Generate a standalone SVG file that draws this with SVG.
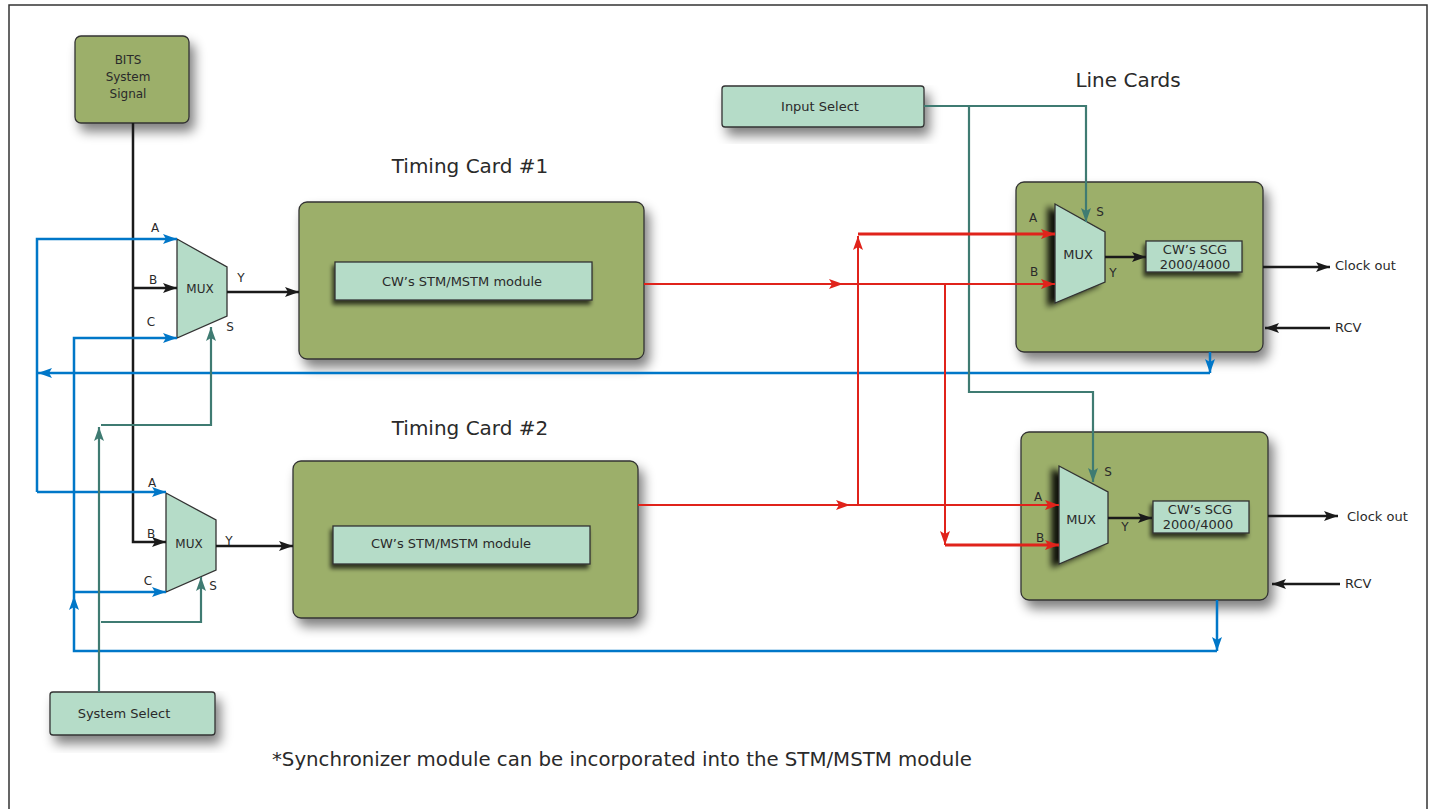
<svg xmlns="http://www.w3.org/2000/svg" width="1436" height="809" viewBox="0 0 1436 809">
<defs>
<style>
text{font-family:"DejaVu Sans","Liberation Sans",sans-serif;fill:#2a2a2a;}
.card{fill:#9caf6a;stroke:#333;stroke-width:1.3;}
.mod{fill:#b5dcc8;stroke:#333;stroke-width:1.3;}
.mux{fill:#b5dcc8;stroke:#333;stroke-width:1.3;}
.blk{fill:none;stroke:#1a1a1a;stroke-width:2.5;}
.blu{fill:none;stroke:#0077c8;stroke-width:2.5;}
.tea{fill:none;stroke:#3f7b72;stroke-width:2.2;}
.red{fill:none;stroke:#e0231b;stroke-width:2;}
.redt{fill:none;stroke:#e0231b;stroke-width:3;}
.lbl{font-size:12px;}
.t13{font-size:13px;}
.title{font-size:20px;}
</style>
<filter id="sh" x="-20%" y="-20%" width="150%" height="160%">
<feGaussianBlur in="SourceAlpha" stdDeviation="6"/>
<feOffset dx="5" dy="8" result="b"/>
<feComponentTransfer><feFuncA type="linear" slope="0.5"/></feComponentTransfer>
<feMerge><feMergeNode/><feMergeNode in="SourceGraphic"/></feMerge>
</filter>
<filter id="shs" x="-20%" y="-30%" width="140%" height="180%">
<feGaussianBlur in="SourceAlpha" stdDeviation="2"/>
<feOffset dx="-2" dy="4"/>
<feComponentTransfer><feFuncA type="linear" slope="0.7"/></feComponentTransfer>
<feMerge><feMergeNode/><feMergeNode in="SourceGraphic"/></feMerge>
</filter>
<filter id="shm" x="-50%" y="-20%" width="200%" height="150%">
<feGaussianBlur in="SourceAlpha" stdDeviation="3"/>
<feOffset dx="-7" dy="3"/>
<feComponentTransfer><feFuncA type="linear" slope="0.9"/></feComponentTransfer>
<feMerge><feMergeNode/><feMergeNode in="SourceGraphic"/></feMerge>
</filter>
<marker id="aK" markerUnits="userSpaceOnUse" markerWidth="16" markerHeight="12" refX="14" refY="6" orient="auto"><path d="M0,1 L14,6 L0,11 L3,6 Z" fill="#1a1a1a"/></marker>
<marker id="aB" markerUnits="userSpaceOnUse" markerWidth="16" markerHeight="12" refX="14" refY="6" orient="auto"><path d="M0,1 L14,6 L0,11 L3,6 Z" fill="#0077c8"/></marker>
<marker id="aT" markerUnits="userSpaceOnUse" markerWidth="16" markerHeight="12" refX="14" refY="6" orient="auto"><path d="M0,1 L14,6 L0,11 L3,6 Z" fill="#3f7b72"/></marker>
<marker id="aR" markerUnits="userSpaceOnUse" markerWidth="16" markerHeight="12" refX="14" refY="6" orient="auto"><path d="M0,1 L14,6 L0,11 L3,6 Z" fill="#e0231b"/></marker>
</defs>
<rect width="1436" height="809" fill="#fff"/>
<path d="M9 809 V5 H1427 V809" fill="none" stroke="#333" stroke-width="1.5"/>

<g id="bits">
<rect x="75" y="36" width="114" height="87" rx="6" class="card" filter="url(#sh)"/>
<text x="128" y="64" text-anchor="middle" class="lbl">BITS</text>
<text x="128" y="81" text-anchor="middle" class="lbl">System</text>
<text x="128" y="98" text-anchor="middle" class="lbl">Signal</text>
</g>

<g id="mux1">
<path d="M177 239 L227 267 L227 316 L177 338 Z" class="mux"/>
<text x="200" y="293" text-anchor="middle" class="lbl">MUX</text>
<text x="155" y="232" text-anchor="middle" class="lbl">A</text>
<text x="153" y="284" text-anchor="middle" class="lbl">B</text>
<text x="151" y="326" text-anchor="middle" class="lbl">C</text>
<text x="241" y="282" text-anchor="middle" class="lbl">Y</text>
<text x="230" y="331" text-anchor="middle" class="lbl">S</text>
</g>

<g id="mux2">
<path d="M166 493 L216 520 L216 570 L166 592 Z" class="mux"/>
<text x="189" y="548" text-anchor="middle" class="lbl">MUX</text>
<text x="152" y="487" text-anchor="middle" class="lbl">A</text>
<text x="151" y="538" text-anchor="middle" class="lbl">B</text>
<text x="148" y="585" text-anchor="middle" class="lbl">C</text>
<text x="229" y="545" text-anchor="middle" class="lbl">Y</text>
<text x="213" y="590" text-anchor="middle" class="lbl">S</text>
</g>

<g id="timing1">
<text x="470" y="173" text-anchor="middle" class="title">Timing Card #1</text>
<rect x="299" y="202" width="345" height="157" rx="8" class="card" filter="url(#sh)"/>
<rect x="335" y="262" width="257" height="38" class="mod" filter="url(#shs)"/>
<text x="462" y="286" text-anchor="middle" class="t13">CW’s STM/MSTM module</text>
</g>

<g id="timing2">
<text x="470" y="435" text-anchor="middle" class="title">Timing Card #2</text>
<rect x="293" y="461" width="345" height="157" rx="8" class="card" filter="url(#sh)"/>
<rect x="333" y="526" width="257" height="38" class="mod" filter="url(#shs)"/>
<text x="451" y="548" text-anchor="middle" class="t13">CW’s STM/MSTM module</text>
</g>

<g id="sysselect">
<rect x="50" y="692" width="165" height="43" rx="3" class="mod" filter="url(#sh)"/>
<text x="124" y="718" text-anchor="middle" class="t13">System Select</text>
</g>

<g id="inputselect">
<rect x="722" y="86" width="202" height="41" rx="3" class="mod" filter="url(#sh)"/>
<text x="820" y="111" text-anchor="middle" class="t13">Input Select</text>
</g>

<text x="1128" y="87" text-anchor="middle" class="title">Line Cards</text>

<g id="linecard1">
<rect x="1016" y="182" width="247" height="170" rx="8" class="card" filter="url(#sh)"/>
<path d="M1055 204 L1105 232 L1105 282 L1055 303 Z" class="mux" filter="url(#shm)"/>
<text x="1078" y="259" text-anchor="middle" class="t13">MUX</text>
<text x="1033" y="222" text-anchor="middle" class="lbl">A</text>
<text x="1034" y="276" text-anchor="middle" class="lbl">B</text>
<text x="1100" y="216" text-anchor="middle" class="lbl">S</text>
<text x="1113" y="277" text-anchor="middle" class="lbl">Y</text>
<rect x="1146" y="241" width="96" height="31" class="mod" filter="url(#shs)"/>
<text x="1195" y="254" text-anchor="middle" class="t13">CW’s SCG</text>
<text x="1195" y="269" text-anchor="middle" class="t13">2000/4000</text>
<text x="1335" y="270" class="t13">Clock out</text>
<text x="1335" y="332" class="t13">RCV</text>
</g>

<g id="linecard2">
<rect x="1021" y="432" width="247" height="168" rx="8" class="card" filter="url(#sh)"/>
<path d="M1059 466 L1108 492 L1108 543 L1059 564 Z" class="mux" filter="url(#shm)"/>
<text x="1081" y="524" text-anchor="middle" class="t13">MUX</text>
<text x="1038" y="501" text-anchor="middle" class="lbl">A</text>
<text x="1040" y="542" text-anchor="middle" class="lbl">B</text>
<text x="1108" y="476" text-anchor="middle" class="lbl">S</text>
<text x="1125" y="531" text-anchor="middle" class="lbl">Y</text>
<rect x="1153" y="501" width="96" height="32" class="mod" filter="url(#shs)"/>
<text x="1200" y="514" text-anchor="middle" class="t13">CW’s SCG</text>
<text x="1198" y="529" text-anchor="middle" class="t13">2000/4000</text>
<text x="1347" y="521" class="t13">Clock out</text>
<text x="1345" y="588" class="t13">RCV</text>
</g>

<text x="272" y="766" class="title" font-size="19" textLength="700" lengthAdjust="spacingAndGlyphs">*Synchronizer module can be incorporated into the STM/MSTM module</text>

<g id="connectors">
<path d="M133 123 V542 H166" class="blk" stroke-width="3" marker-end="url(#aK)"/>
<path d="M133 288 H177" class="blk" marker-end="url(#aK)"/>
<path d="M227 292 H299" class="blk" stroke-width="3" marker-end="url(#aK)"/>
<path d="M216 546 H293" class="blk" marker-end="url(#aK)"/>
<path d="M1210 352 V373" class="blu" marker-end="url(#aB)"/>
<path d="M1210 373 H38" class="blu" marker-end="url(#aB)"/>
<path d="M37 492 V239 H177" class="blu" marker-end="url(#aB)"/>
<path d="M37 492 H166" class="blu" marker-end="url(#aB)"/>
<path d="M1217 600 V651" class="blu" marker-end="url(#aB)"/>
<path d="M1217 651 H74 V596" class="blu" marker-end="url(#aB)"/>
<path d="M74 596 V338 H177" class="blu" marker-end="url(#aB)"/>
<path d="M74 592 H166" class="blu" marker-end="url(#aB)"/>
<path d="M99 692 V427" class="tea" marker-end="url(#aT)"/>
<path d="M101 425 H211 V327" class="tea" marker-end="url(#aT)"/>
<path d="M101 622 H201 V577" class="tea" marker-end="url(#aT)"/>
<path d="M924 106 H1086 V222" class="tea" marker-end="url(#aT)"/>
<path d="M969 106 V392 H1093 V482" class="tea" marker-end="url(#aT)"/>
<path d="M644 284 H843 H1055" class="red" marker-mid="url(#aR)" marker-end="url(#aR)"/>
<path d="M638 505 H850 H1059" class="red" marker-mid="url(#aR)" marker-end="url(#aR)"/>
<path d="M858 505 V236" class="red" marker-end="url(#aR)"/>
<path d="M858 234 H1055" class="redt" marker-end="url(#aR)"/>
<path d="M945 284 V545" class="red" marker-end="url(#aR)"/>
<path d="M945 545 H1059" class="redt" marker-end="url(#aR)"/>
<path d="M1105 257 H1146" class="blk" stroke-width="2" marker-end="url(#aK)"/>
<path d="M1263 267 H1330" class="blk" stroke-width="2" marker-end="url(#aK)"/>
<path d="M1330 328 H1265" class="blk" stroke-width="2" marker-end="url(#aK)"/>
<path d="M1108 518 H1152" class="blk" stroke-width="2" marker-end="url(#aK)"/>
<path d="M1268 516 H1338" class="blk" stroke-width="2.5" marker-end="url(#aK)"/>
<path d="M1340 584 H1272" class="blk" stroke-width="2" marker-end="url(#aK)"/>
</g>
</svg>
